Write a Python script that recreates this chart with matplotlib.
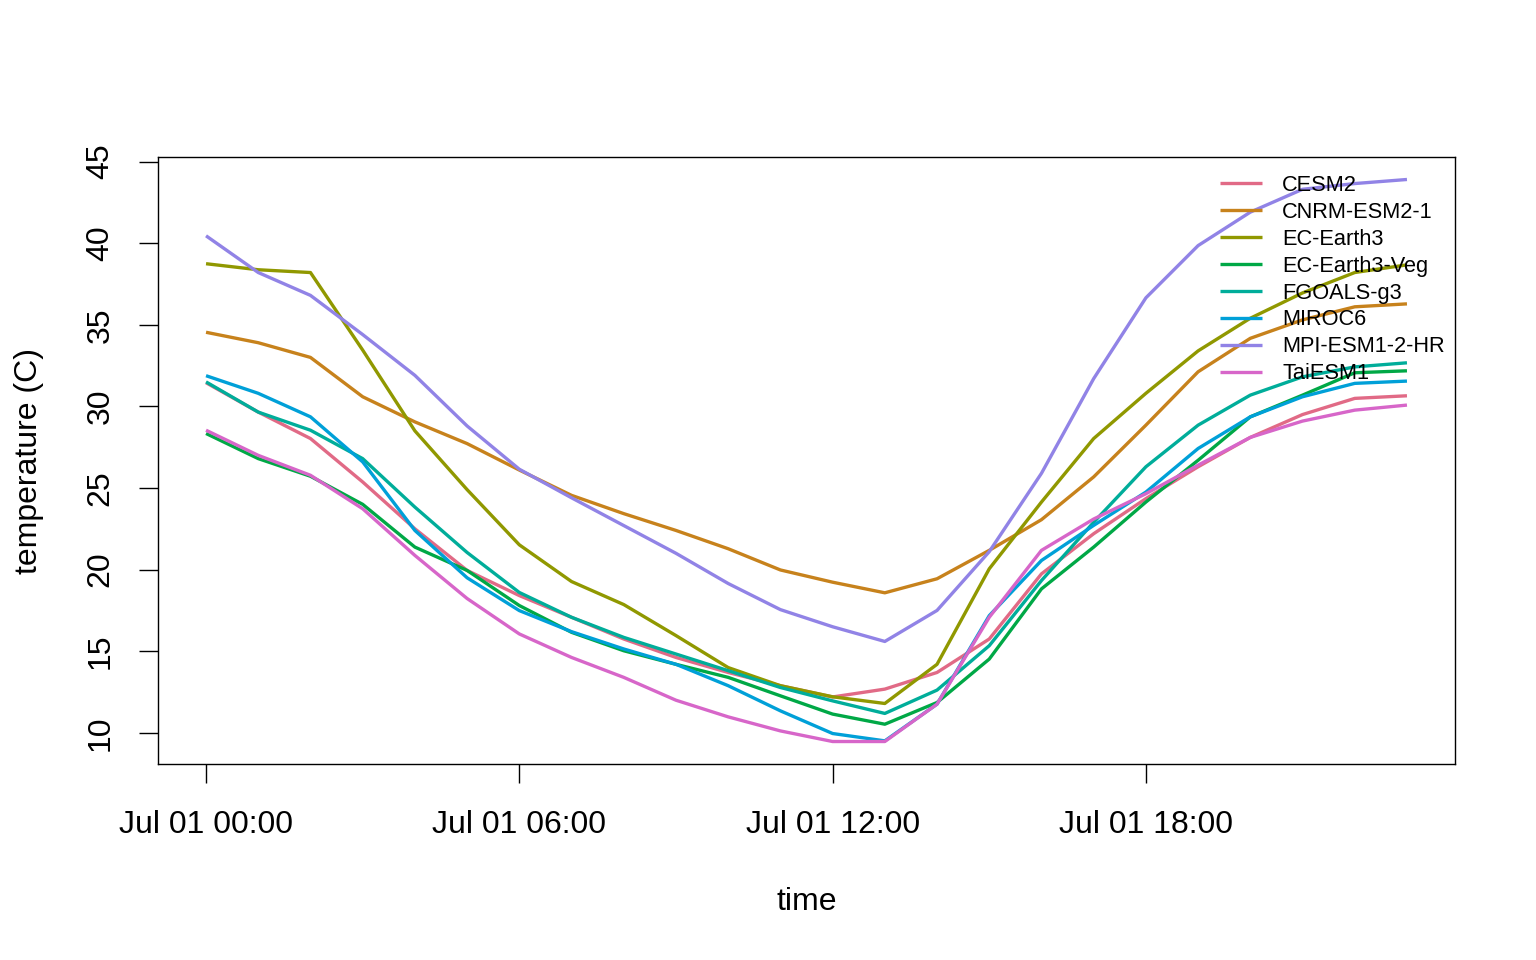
import matplotlib
matplotlib.use("Agg")
import matplotlib.pyplot as plt
import matplotlib.dates as mdates
import pandas as pd

plt.rcParams['font.family'] = ['Liberation Sans', 'DejaVu Sans']

times = pd.date_range("2020-07-01 00:00", periods=24, freq="h")

models = ["CESM2", "CNRM-ESM2-1", "EC-Earth3", "EC-Earth3-Veg",
          "FGOALS-g3", "MIROC6", "MPI-ESM1-2-HR", "TaiESM1"]
colors = ["#E16A86", "#C7821C", "#909800", "#00A846",
          "#00AD9A", "#00A0D8", "#9183E6", "#D766C9"]

cesm2 = [31.45, 29.65, 28.03, 25.37, 22.5, 19.95, 18.41, 17.08, 15.75, 14.62, 13.70, 12.89,
         12.2, 12.68, 13.70, 15.75, 19.74, 22.2, 24.35, 26.3, 28.1, 29.5, 30.49, 30.65]
cnrm = [34.54, 33.9, 33.0, 30.59, 29.05, 27.72, 26.1, 24.55, 23.43, 22.4, 21.28, 19.98,
        19.23, 18.58, 19.44, 21.18, 23.06, 25.68, 28.85, 32.12, 34.17, 35.3, 36.1, 36.28]
ecearth3 = [38.74, 38.37, 38.2, 33.45, 28.5, 24.9, 21.52, 19.27, 17.86, 15.96, 14.0, 12.89,
            12.21, 11.8, 14.2, 20.05, 24.14, 28.03, 30.8, 33.4, 35.4, 36.95, 38.2, 38.67]
ecearth3veg = [28.34, 26.8, 25.72, 24.0, 21.38, 19.95, 17.8, 16.16, 15.03, 14.2, 13.4, 12.27,
               11.15, 10.53, 11.86, 14.52, 18.82, 21.38, 24.14, 26.7, 29.36, 30.69, 32.06, 32.18]
fgoals = [31.5, 29.65, 28.54, 26.8, 23.83, 21.05, 18.6, 17.08, 15.85, 14.83, 13.81, 12.78,
          11.96, 11.19, 12.62, 15.34, 19.33, 22.9, 26.3, 28.85, 30.69, 31.81, 32.42, 32.67]
miroc6 = [31.88, 30.8, 29.36, 26.6, 22.4, 19.5, 17.49, 16.2, 15.14, 14.2, 12.89, 11.35,
          9.96, 9.51, 11.76, 17.18, 20.56, 22.71, 24.75, 27.42, 29.36, 30.59, 31.41, 31.55]
mpi = [40.45, 38.2, 36.8, 34.4, 31.9, 28.8, 26.15, 24.4, 22.7, 21.0, 19.15, 17.55,
       16.5, 15.6, 17.5, 21.1, 25.9, 31.7, 36.65, 39.85, 41.9, 43.3, 43.65, 43.9]
taiesm1 = [28.54, 27.0, 25.78, 23.73, 20.87, 18.23, 16.06, 14.62, 13.4, 12.0, 10.98, 10.12,
           9.47, 9.47, 11.76, 17.08, 21.18, 23.1, 24.65, 26.4, 28.1, 29.1, 29.77, 30.08]

series = [cesm2, cnrm, ecearth3, ecearth3veg, fgoals, miroc6, mpi, taiesm1]
yticks = [10, 15, 20, 25, 30, 35, 40, 45]

fig = plt.figure(figsize=(15.36, 9.6), dpi=100)
ax = fig.add_axes([158/1536, (960-764)/960, (1455-158)/1536, (764-157)/960])

for name, col, vals in zip(models, colors, series):
    ax.plot(times, vals, color=col, lw=2.4, label=name, solid_capstyle='butt')

ax.margins(x=0.04, y=0.04)
ax.xaxis.set_major_locator(mdates.HourLocator(byhour=[0, 6, 12, 18]))
ax.xaxis.set_major_formatter(mdates.DateFormatter('%b %d %H:%M'))
ax.set_yticks(yticks)

ax.tick_params(axis='both', direction='out', length=13.7, width=1.0,
               labelsize=23, pad=17)
ax.tick_params(axis='x', pad=19.5)
for lab in ax.get_yticklabels():
    lab.set_rotation(90)
    lab.set_va('center')

for sp in ax.spines.values():
    sp.set_linewidth(1.0)

ax.set_xlabel('time', fontsize=23, labelpad=34)
ax.set_ylabel('temperature (C)', fontsize=23, labelpad=30)

leg = ax.legend(loc='upper left', bbox_to_anchor=(1220/1536, (960-175)/960),
                bbox_transform=fig.transFigure, frameon=False, fontsize=15.7,
                handlelength=1.93, handletextpad=0.92, labelspacing=0.27,
                borderpad=0, borderaxespad=0)

fig.savefig('out.png', dpi=100)
